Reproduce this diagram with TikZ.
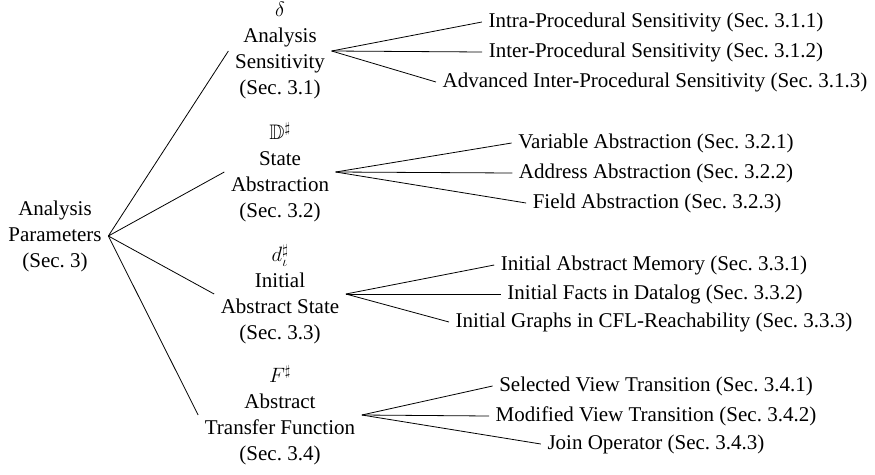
\documentclass[tikz,border=0pt]{standalone}
\usepackage{amssymb}
\usepackage{fontspec}
\setmainfont{Liberation Serif}
\begin{document}
\begin{tikzpicture}[x=1pt,y=-1pt,
  every node/.style={font=\fontsize{21}{26}\selectfont, align=center, inner sep=6.5pt},
  link/.style={draw=black, line width=0.8pt}]
\useasboundingbox (0,0) rectangle (875,474);
% root
\node (root) at (55,236) {Analysis\\Parameters\\(Sec.~3)};
% middle
\node (s1) at (280,51) {$\delta$\\Analysis\\Sensitivity\\(Sec.~3.1)};
\node (s2) at (280,172) {$\mathbb{D}^\sharp$\\State\\Abstraction\\(Sec.~3.2)};
\node (s3) at (280,294) {$d_\iota^\sharp$\\Initial\\Abstract State\\(Sec.~3.3)};
\node (s4) at (280,415) {$F^\sharp$\\Abstract\\Transfer Function\\(Sec.~3.4)};
% leaves
\node (l11) at (656,22) {Intra-Procedural Sensitivity (Sec.~3.1.1)};
\node (l12) at (656,52) {Inter-Procedural Sensitivity (Sec.~3.1.2)};
\node (l13) at (655,82) {Advanced Inter-Procedural Sensitivity (Sec.~3.1.3)};
\node (l21) at (656,143) {Variable Abstraction (Sec.~3.2.1)};
\node (l22) at (656,173) {Address Abstraction (Sec.~3.2.2)};
\node (l23) at (657,203) {Field Abstraction (Sec.~3.2.3)};
\node (l31) at (654,265) {Initial Abstract Memory (Sec.~3.3.1)};
\node (l32) at (655,294) {Initial Facts in Datalog (Sec.~3.3.2)};
\node (l33) at (654,322) {Initial Graphs in CFL-Reachability (Sec.~3.3.3)};
\node (l41) at (656,386) {Selected View Transition (Sec.~3.4.1)};
\node (l42) at (656,416) {Modified View Transition (Sec.~3.4.2)};
\node (l43) at (656,444) {Join Operator (Sec.~3.4.3)};
% connectors
\foreach \s in {s1,s2,s3,s4} \draw[link] (root.east) -- (\s.west);
\foreach \l in {l11,l12,l13} \draw[link] (s1.east) -- (\l.west);
\foreach \l in {l21,l22,l23} \draw[link] (s2.east) -- (\l.west);
\foreach \l in {l31,l32,l33} \draw[link] (s3.east) -- (\l.west);
\foreach \l in {l41,l42,l43} \draw[link] (s4.east) -- (\l.west);
\end{tikzpicture}
\end{document}
